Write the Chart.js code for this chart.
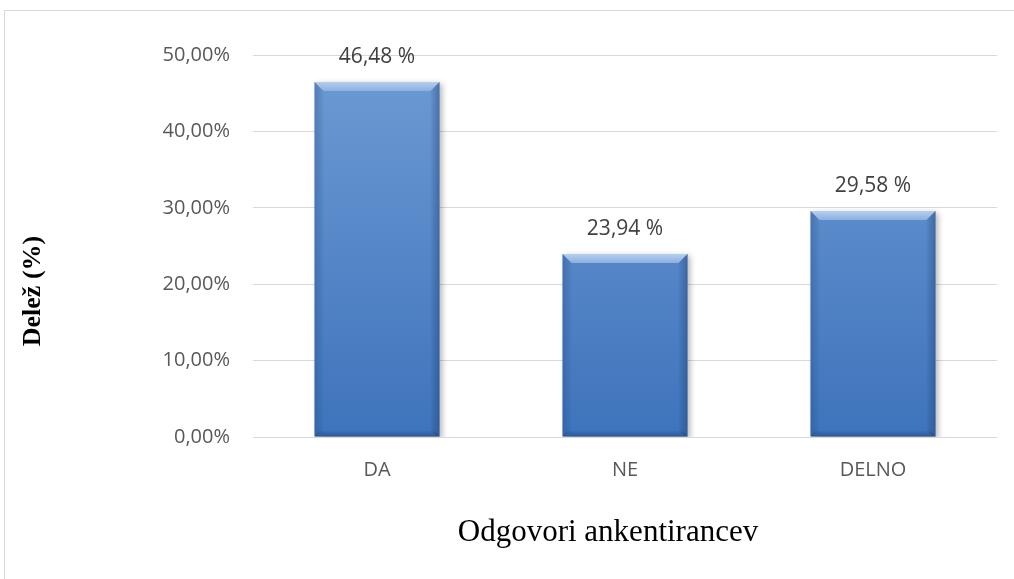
<!DOCTYPE html>
<html>
<head>
<meta charset="utf-8">
<script src="https://cdn.jsdelivr.net/npm/chart.js@4.4.0/dist/chart.umd.min.js"></script>
<style>
    html, body { margin: 0; padding: 0; background: #fff; overflow: hidden; }
    #frame { position: absolute; left: 4px; top: 10px; width: 1100px; height: 700px; border: 1px solid #d9d9d9; box-sizing: border-box; }
    #wrap { position: absolute; left: 0; top: 0; width: 1014px; height: 579px; }
</style>
</head>
<body>
<div id="frame"></div>
<div id="wrap"><canvas id="chart" width="1014" height="579"></canvas></div>
<script>
// podatki
const categories = ['DA', 'NE', 'DELNO'];
const shares = [46.48, 23.94, 29.58];
const yTicks = [0, 10, 20, 30, 40, 50];
const xTitle = 'Odgovori ankentirancev';
const yTitle = 'Delež (%)';

function fmt(v) {
    return v.toFixed(2).replace('.', ',');
}

// senca pod stolpci
const barShadow = {
    id: 'barShadow',
    beforeDatasetDraw(chart) {
        const ctx = chart.ctx;
        ctx.save();
        ctx.shadowColor = 'rgba(0,0,0,0.3)';
        ctx.shadowBlur = 6;
        ctx.shadowOffsetX = 3;
        ctx.shadowOffsetY = 2;
    },
    afterDatasetDraw(chart) {
        chart.ctx.restore();
    }
};

// "bevel" robovi + oznake vrednosti
const bevelAndLabels = {
    id: 'bevelAndLabels',
    afterDatasetsDraw(chart) {
        const ctx = chart.ctx;
        const meta = chart.getDatasetMeta(0);
        const b = 9;
        meta.data.forEach((el, i) => {
            const x0 = el.x - el.width / 2, x1 = el.x + el.width / 2;
            const y0 = el.y, y1 = el.base;
            ctx.save();
            // zgoraj
            const g = ctx.createLinearGradient(0, y0, 0, y0 + b);
            g.addColorStop(0, '#b6cfee');
            g.addColorStop(1, '#8cafdf');
            ctx.fillStyle = g;
            ctx.beginPath();
            ctx.moveTo(x0, y0); ctx.lineTo(x1, y0); ctx.lineTo(x1 - b, y0 + b); ctx.lineTo(x0 + b, y0 + b);
            ctx.closePath(); ctx.fill();
            // levo
            let gl = ctx.createLinearGradient(x0, 0, x0 + b, 0);
            gl.addColorStop(0, 'rgba(30,65,120,0.30)');
            gl.addColorStop(1, 'rgba(30,65,120,0.05)');
            ctx.fillStyle = gl;
            ctx.beginPath();
            ctx.moveTo(x0, y0); ctx.lineTo(x0 + b, y0 + b); ctx.lineTo(x0 + b, y1 - 4); ctx.lineTo(x0, y1);
            ctx.closePath(); ctx.fill();
            // desno
            let gr = ctx.createLinearGradient(x1, 0, x1 - b, 0);
            gr.addColorStop(0, 'rgba(25,55,105,0.40)');
            gr.addColorStop(1, 'rgba(25,55,105,0.05)');
            ctx.fillStyle = gr;
            ctx.beginPath();
            ctx.moveTo(x1, y0); ctx.lineTo(x1 - b, y0 + b); ctx.lineTo(x1 - b, y1 - 4); ctx.lineTo(x1, y1);
            ctx.closePath(); ctx.fill();
            // spodaj
            let gb = ctx.createLinearGradient(0, y1, 0, y1 - 6);
            gb.addColorStop(0, 'rgba(25,55,105,0.45)');
            gb.addColorStop(1, 'rgba(25,55,105,0.05)');
            ctx.fillStyle = gb;
            ctx.beginPath();
            ctx.moveTo(x0, y1); ctx.lineTo(x0 + 4, y1 - 6); ctx.lineTo(x1 - 4, y1 - 6); ctx.lineTo(x1, y1);
            ctx.closePath(); ctx.fill();

            // oznaka
            ctx.fillStyle = '#404040';
            ctx.font = '21px "Open Sans"';
            ctx.textAlign = 'center';
            ctx.textBaseline = 'middle';
            ctx.fillText(fmt(shares[i]) + ' %', el.x, el.y - 25);
            ctx.restore();
        });
    }
};

// naslovi osi
const axisTitles = {
    id: 'axisTitles',
    afterDraw(chart) {
        const ctx = chart.ctx;
        ctx.save();
        ctx.fillStyle = '#000';
        ctx.textAlign = 'center';
        ctx.textBaseline = 'middle';
        ctx.font = '31px "Liberation Serif"';
        ctx.fillText(xTitle, 608, 533);
        ctx.translate(33, 291);
        ctx.rotate(-Math.PI / 2);
        ctx.font = 'bold 26px "Liberation Serif"';
        ctx.fillText(yTitle, 0, 0);
        ctx.restore();
    }
};

new Chart(document.getElementById('chart'), {
    type: 'bar',
    data: {
        labels: categories,
        datasets: [{
            data: shares,
            backgroundColor(c) {
                const area = c.chart.chartArea;
                if (!area) return '#4f81bd';
                const g = c.chart.ctx.createLinearGradient(0, area.top, 0, area.bottom);
                g.addColorStop(0, '#6e9bd4');
                g.addColorStop(1, '#3e74bc');
                return g;
            },
            borderWidth: 0,
            categoryPercentage: 1,
            barPercentage: 0.504
        }]
    },
    options: {
        responsive: false,
        animation: false,
        layout: { padding: { top: 55, right: 17, left: 0, bottom: 0 } },
        plugins: { legend: { display: false }, tooltip: { enabled: false } },
        scales: {
            x: {
                grid: { display: false },
                border: { display: false },
                ticks: { color: '#595959', font: { family: 'Open Sans', size: 20 }, padding: 13 },
                afterFit(s) { s.height = 142; }
            },
            y: {
                min: 0,
                max: 50,
                afterBuildTicks(s) { s.ticks = yTicks.map(v => ({ value: v })); },
                grid: { color: '#d9d9d9', drawTicks: false },
                border: { display: false },
                ticks: {
                    color: '#595959',
                    font: { family: 'Open Sans', size: 20 },
                    padding: 23,
                    callback: v => fmt(v) + '%'
                },
                afterFit(s) { s.width = 253; }
            }
        }
    },
    plugins: [barShadow, bevelAndLabels, axisTitles]
});
</script>
</body>
</html>
